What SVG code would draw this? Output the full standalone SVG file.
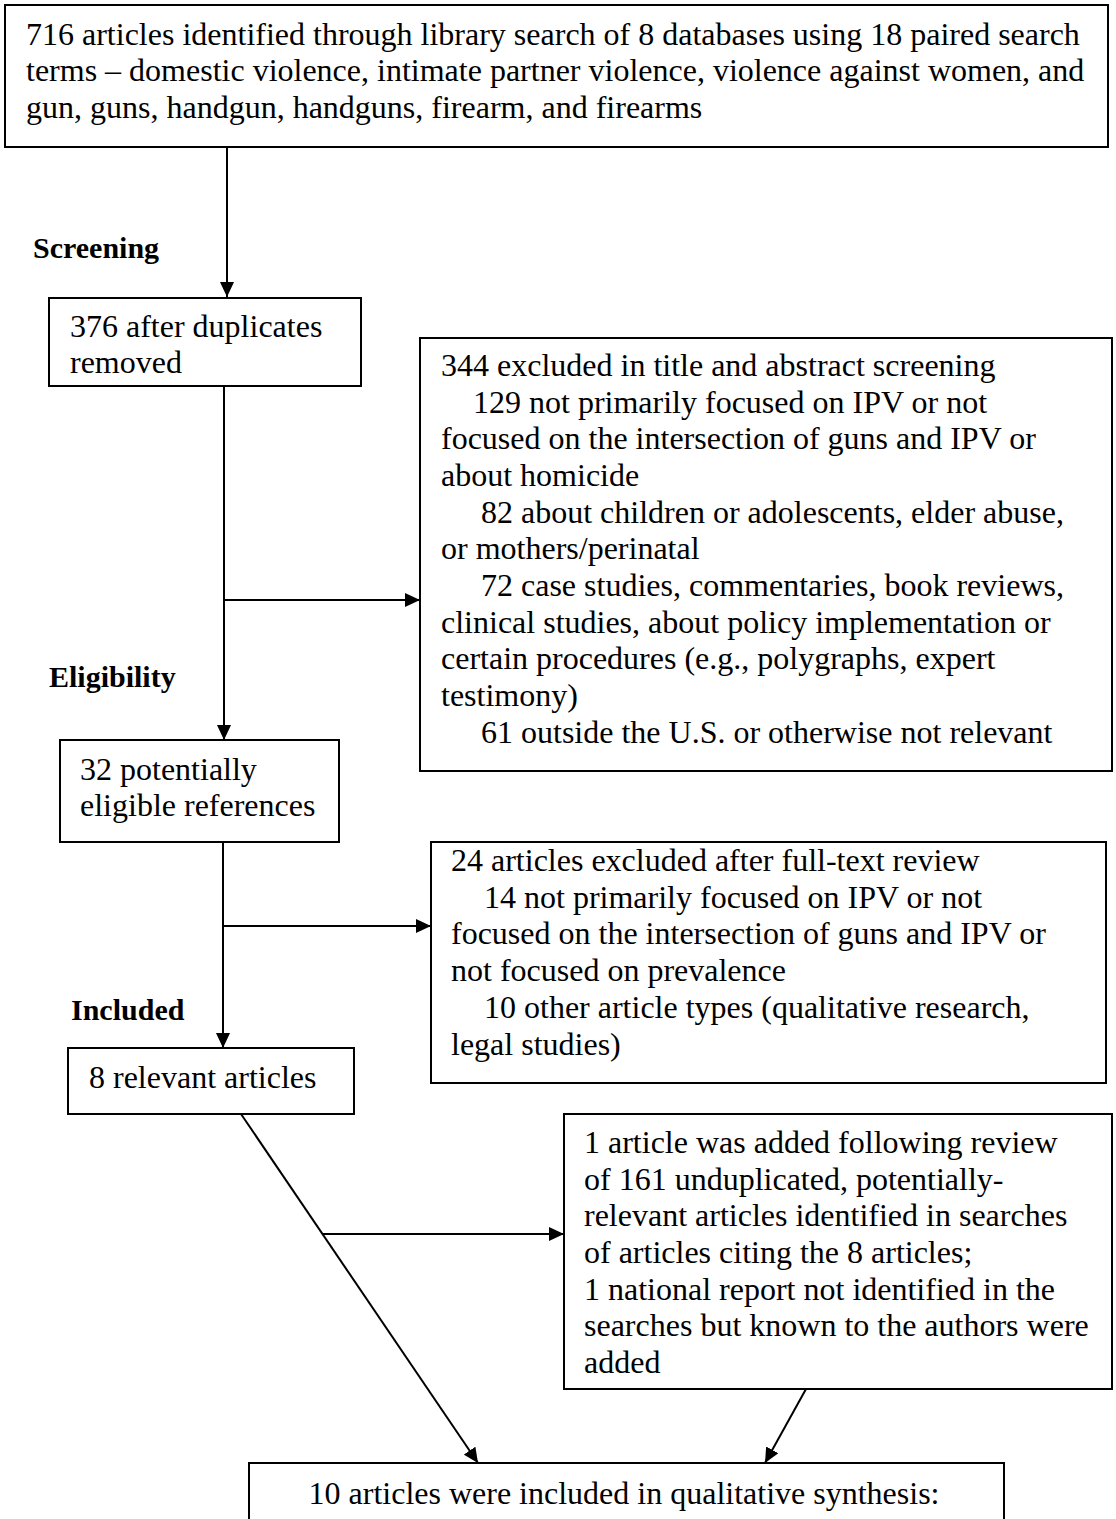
<svg xmlns="http://www.w3.org/2000/svg" width="1116" height="1519" viewBox="0 0 1116 1519">
<style>
  .box { fill: #ffffff; stroke: #000000; stroke-width: 2; }
  .t { font-family: "Liberation Serif", "Times New Roman", serif; font-size: 32px; fill: #000000; }
  .lbl { font-family: "Liberation Serif", "Times New Roman", serif; font-size: 30px; font-weight: bold; fill: #000000; }
  .edge { fill: none; stroke: #000000; stroke-width: 2; marker-end: url(#arrow); }
</style>
<defs>
  <marker id="arrow" markerUnits="userSpaceOnUse" markerWidth="16" markerHeight="14" refX="15" refY="7" orient="auto">
    <path d="M0,0 L15,7 L0,14 Z" fill="#000000"/>
  </marker>
</defs>
<rect width="1116" height="1519" fill="#ffffff"/>

<g id="stage-labels">
  <text class="lbl" x="33" y="258">Screening</text>
  <text class="lbl" x="49" y="687">Eligibility</text>
  <text class="lbl" x="71" y="1020">Included</text>
</g>

<g id="connectors">
  <line class="edge" x1="227" y1="148" x2="227" y2="297"/>
  <line class="edge" x1="224" y1="386" x2="224" y2="740"/>
  <line class="edge" x1="224" y1="600" x2="420" y2="600"/>
  <line class="edge" x1="223" y1="842" x2="223" y2="1048"/>
  <line class="edge" x1="223" y1="926" x2="431" y2="926"/>
  <line class="edge" x1="241" y1="1114" x2="478" y2="1463"/>
  <line class="edge" x1="323" y1="1234" x2="564" y2="1234"/>
  <line class="edge" x1="806" y1="1389" x2="765" y2="1463"/>
</g>

<g id="node-identified">
  <rect class="box" x="5" y="5" width="1103" height="142"/>
  <text class="t" x="26" y="45">716 articles identified through library search of 8 databases using 18 paired search</text>
  <text class="t" x="26" y="81">terms – domestic violence, intimate partner violence, violence against women, and</text>
  <text class="t" x="26" y="118">gun, guns, handgun, handguns, firearm, and firearms</text>
</g>

<g id="node-duplicates">
  <rect class="box" x="49" y="298" width="312" height="88"/>
  <text class="t" x="70" y="337">376 after duplicates</text>
  <text class="t" x="70" y="373">removed</text>
</g>

<g id="node-excluded-screening">
  <rect class="box" x="420" y="338" width="692" height="433"/>
  <text class="t" x="441" y="376">344 excluded in title and abstract screening</text>
  <text class="t" x="473" y="413">129 not primarily focused on IPV or not</text>
  <text class="t" x="441" y="449">focused on the intersection of guns and IPV or</text>
  <text class="t" x="441" y="486">about homicide</text>
  <text class="t" x="481" y="523">82 about children or adolescents, elder abuse,</text>
  <text class="t" x="441" y="559">or mothers/perinatal</text>
  <text class="t" x="481" y="596">72 case studies, commentaries, book reviews,</text>
  <text class="t" x="441" y="633">clinical studies, about policy implementation or</text>
  <text class="t" x="441" y="669">certain procedures (e.g., polygraphs, expert</text>
  <text class="t" x="441" y="706">testimony)</text>
  <text class="t" x="481" y="743">61 outside the U.S. or otherwise not relevant</text>
</g>

<g id="node-eligible">
  <rect class="box" x="60" y="740" width="279" height="102"/>
  <text class="t" x="80" y="780">32 potentially</text>
  <text class="t" x="80" y="816">eligible references</text>
</g>

<g id="node-excluded-fulltext">
  <rect class="box" x="431" y="842" width="675" height="241"/>
  <text class="t" x="451" y="871">24 articles excluded after full-text review</text>
  <text class="t" x="484" y="908">14 not primarily focused on IPV or not</text>
  <text class="t" x="451" y="944">focused on the intersection of guns and IPV or</text>
  <text class="t" x="451" y="981">not focused on prevalence</text>
  <text class="t" x="484" y="1018">10 other article types (qualitative research,</text>
  <text class="t" x="451" y="1055">legal studies)</text>
</g>

<g id="node-relevant">
  <rect class="box" x="68" y="1048" width="286" height="66"/>
  <text class="t" x="89" y="1088">8 relevant articles</text>
</g>

<g id="node-added">
  <rect class="box" x="564" y="1114" width="548" height="275"/>
  <text class="t" x="584" y="1153">1 article was added following review</text>
  <text class="t" x="584" y="1190">of 161 unduplicated, potentially-</text>
  <text class="t" x="584" y="1226">relevant articles identified in searches</text>
  <text class="t" x="584" y="1263">of articles citing the 8 articles;</text>
  <text class="t" x="584" y="1300">1 national report not identified in the</text>
  <text class="t" x="584" y="1336">searches but known to the authors were</text>
  <text class="t" x="584" y="1373">added</text>
</g>

<g id="node-included">
  <rect class="box" x="249" y="1463" width="755" height="80"/>
  <text class="t" x="624" y="1504" text-anchor="middle">10 articles were included in qualitative synthesis:</text>
</g>
</svg>
